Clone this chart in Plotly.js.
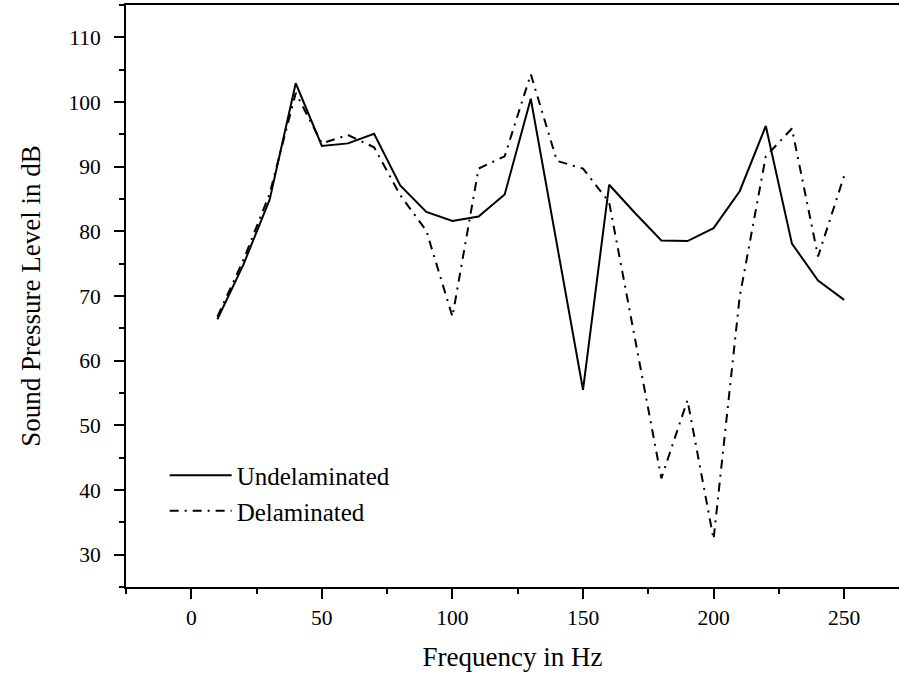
<!DOCTYPE html>
<html>
<head>
<meta charset="utf-8">
<script src="https://cdn.plot.ly/plotly-3.0.1.min.js"></script>
<style>html,body{margin:0;padding:0;background:#fff;}#chart{width:899px;height:679px;}</style>
</head>
<body>
<div id="chart"></div>
<script>
const frequency = [10, 20, 30, 40, 50, 60, 70, 80, 90, 100, 110, 120, 130, 140, 150, 160, 170, 180, 190, 200, 210, 220, 230, 240, 250];
const undelaminated = [66.4, 74.9, 84.9, 102.9, 93.2, 93.6, 95.1, 87.1, 83.0, 81.6, 82.3, 85.7, 100.5, 78.0, 55.5, 87.2, 82.8, 78.6, 78.5, 80.5, 86.2, 96.3, 78.1, 72.4, 69.4];
const delaminated = [66.8, 75.6, 85.8, 101.4, 93.6, 94.9, 93.0, 85.6, 80.1, 66.8, 89.7, 91.6, 104.3, 90.9, 89.7, 84.5, 63.2, 41.8, 53.9, 32.4, 69.9, 91.6, 95.9, 76.1, 88.6];
const seriesNames = ["Undelaminated", "Delaminated"];
const xTickVals = [0, 50, 100, 150, 200, 250];
const yTickVals = [30, 40, 50, 60, 70, 80, 90, 100, 110];
const xTitle = "Frequency in Hz";
const yTitle = "Sound Pressure Level in dB";

const FONT = '"Liberation Serif", "Times New Roman", Times, serif';

const traces = [
  {x: frequency, y: undelaminated, name: seriesNames[0], type: 'scatter', mode: 'lines',
   line: {color: '#000', width: 2, dash: 'solid'}},
  {x: frequency, y: delaminated, name: seriesNames[1], type: 'scatter', mode: 'lines',
   line: {color: '#000', width: 2, dash: '9px,6px,2px,6px'}}
];

const layout = {
  width: 899, height: 679,
  margin: {l: 126, r: 0, t: 5, b: 92, pad: 0},
  paper_bgcolor: '#fff', plot_bgcolor: '#fff',
  font: {family: FONT, color: '#000', size: 21.5},
  showlegend: true,
  legend: {x: 0.05, y: 0.231, xanchor: 'left', yanchor: 'top', bgcolor: 'rgba(0,0,0,0)',
           font: {family: FONT, size: 25, color: '#000'}, itemwidth: 62, borderwidth: 0},
  xaxis: {
    range: [-25, 271], tickmode: 'array', tickvals: xTickVals,
    ticks: 'outside', ticklen: 10, tickwidth: 2, tickcolor: '#000',
    showline: true, linewidth: 2, linecolor: '#000', mirror: true,
    showgrid: false, zeroline: false,
    tickfont: {family: FONT, size: 21.5, color: '#000'},
    ticklabelstandoff: 0,
    minor: {dtick: 25, tick0: -25, ticks: 'outside', ticklen: 5, tickwidth: 2, tickcolor: '#000', showgrid: false},
    title: {text: xTitle, font: {family: FONT, size: 27, color: '#000'}, standoff: 18}
  },
  yaxis: {
    range: [25, 115], tickmode: 'array', tickvals: yTickVals,
    ticks: 'outside', ticklen: 10, tickwidth: 2, tickcolor: '#000',
    showline: true, linewidth: 2, linecolor: '#000', mirror: false,
    showgrid: false, zeroline: false,
    tickfont: {family: FONT, size: 21.5, color: '#000'},
    ticklabelstandoff: 9,
    minor: {dtick: 5, tick0: 25, ticks: 'outside', ticklen: 5, tickwidth: 2, tickcolor: '#000', showgrid: false},
    title: {text: yTitle, font: {family: FONT, size: 27, color: '#000'}, standoff: 20}
  }
};

Plotly.newPlot('chart', traces, layout, {displayModeBar: false, staticPlot: true});
</script>
</body>
</html>
